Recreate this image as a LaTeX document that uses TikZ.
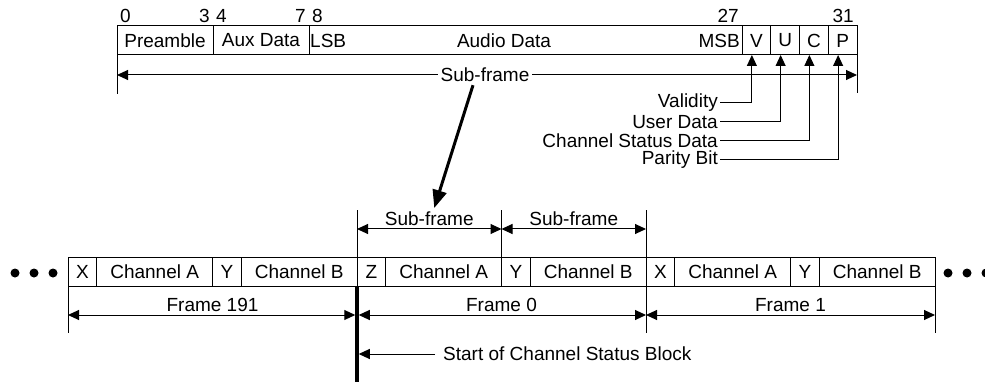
\documentclass[tikz,border=0pt]{standalone}
\usepackage{fontspec}
\setmainfont{Liberation Sans}
\usetikzlibrary{arrows.meta,positioning}

\tikzset{
  cell/.style={draw, line width=1pt, minimum height=29pt, inner sep=0pt, outer sep=0pt},
  sync/.style={cell, minimum width=28.9pt},
  chan/.style={cell, minimum width=115.6pt},
  flag/.style={cell, minimum width=28.75pt},
  tick/.style={line width=1pt},
  tip/.style={-{Triangle[length=11pt,width=10pt]}},
  dim/.style={line width=1pt, {Triangle[length=11pt,width=10pt]}-{Triangle[length=11pt,width=10pt]}},
  bitno/.style={inner sep=3pt},
}

\begin{document}
\begin{tikzpicture}[x=1pt, y=-1pt, font=\fontsize{19}{22}\selectfont, node distance=0pt]
  \useasboundingbox (0,0) rectangle (985,382);

  % Sub-frame bit layout
  \node[cell, minimum width=96pt, anchor=west] (pre) at (117,40.5) {Preamble};
  \node[cell, minimum width=96pt, right=of pre] (aux) {Aux Data};
  \node[cell, minimum width=433pt, right=of aux] (aud) {};
  \node[flag, right=of aud] (bv) {V};
  \node[flag, right=of bv] (bu) {U};
  \node[flag, right=of bu] (bc) {C};
  \node[flag, right=of bc] (bp) {P};
  \node[anchor=west, inner sep=1pt] (lsb) at (aud.west) {LSB};
  \node[anchor=east, inner sep=2pt] (msb) at (aud.east) {MSB};
  \node (audtxt) at ([xshift=-21.5pt]aud.center) {Audio Data};

  % Bit numbers
  \node[bitno, anchor=south west] (n0) at (pre.north west) {0};
  \node[bitno, anchor=south east] (n3) at (pre.north east) {3};
  \node[bitno, anchor=south west] (n4) at (aux.north west) {4};
  \node[bitno, anchor=south east] (n7) at (aux.north east) {7};
  \node[bitno, anchor=south west] (n8) at (aud.north west) {8};
  \node[bitno, anchor=south east] (n27) at (aud.north east) {27};
  \node[bitno, anchor=south east] (n31) at (bp.north east) {31};

  % Sub-frame width
  \draw[tick] (pre.south west) -- ++(0,39);
  \draw[tick] (bp.south east) -- ++(0,38);
  \coordinate (sfl) at ([yshift=-20pt]pre.south west);
  \coordinate (sfr) at ([yshift=-20pt]bp.south east);
  \draw[dim] (sfl) -- (sfr);
  \node[fill=white, inner sep=3pt] (sftop) at (485,75) {Sub-frame};

  % Flag bit labels
  \node[anchor=east, inner sep=2pt] (val) at (720,103) {Validity};
  \node[anchor=east, inner sep=2pt] (usr) at (720,122) {User Data};
  \node[anchor=east, inner sep=2pt] (chs) at (720,141) {Channel Status Data};
  \node[anchor=east, inner sep=2pt] (par) at (720,160) {Parity Bit};
  \draw[tick, tip] (val.east) -| ([xshift=-4.5pt]bv.south);
  \draw[tick, tip] (usr.east) -| ([xshift=-4.5pt]bu.south);
  \draw[tick, tip] (chs.east) -| ([xshift=-4.5pt]bc.south);
  \draw[tick, tip] (par.east) -| ([xshift=-4.5pt]bp.south);

  % Frame sequence
  \node[sync, anchor=west] (f191x) at (68,271.5) {X};
  \node[chan, right=of f191x] (f191a) {Channel A};
  \node[sync, right=of f191a] (f191y) {Y};
  \node[chan, right=of f191y] (f191b) {Channel B};
  \node[sync, right=of f191b] (f0z) {Z};
  \node[chan, right=of f0z] (f0a) {Channel A};
  \node[sync, right=of f0a] (f0y) {Y};
  \node[chan, right=of f0y] (f0b) {Channel B};
  \node[sync, right=of f0b] (f1x) {X};
  \node[chan, right=of f1x] (f1a) {Channel A};
  \node[sync, right=of f1a] (f1y) {Y};
  \node[chan, right=of f1y] (f1b) {Channel B};

  % Dots
  \foreach \x in {15,34,53,948,967,986}
    \fill (\x,273) circle (4.5pt);

  % Sub-frame widths
  \draw[tick] (f0z.north west) -- ++(0,-47);
  \draw[tick] (f0y.north west) -- ++(0,-47);
  \draw[tick] (f1x.north west) -- ++(0,-47);
  \draw[dim] ([yshift=28pt]f0z.north west) -- ([yshift=28pt]f0y.north west)
    node[midway, above, inner sep=3pt] (sfa) {Sub-frame};
  \draw[dim] ([yshift=28pt]f0y.north west) -- ([yshift=28pt]f1x.north west)
    node[midway, above, inner sep=3pt] (sfb) {Sub-frame};

  % Zoom arrow
  \draw[line width=3pt, -{Triangle[length=18pt,width=14pt]}]
    ([xshift=-12pt]sftop.south) -- ([xshift=5pt]sfa.north);

  % Frame widths
  \draw[tick] (f191x.south west) -- ++(0,47);
  \draw[tick] (f1x.south west) -- ++(0,47);
  \draw[tick] (f1b.south east) -- ++(0,47);
  \draw[dim, shorten >=1.75pt] ([yshift=-29pt]f191x.south west) -- ([yshift=-29pt]f191b.south east)
    node[midway, above, inner sep=3pt] (fr191) {Frame 191};
  \draw[dim, shorten <=1.75pt] ([yshift=-29pt]f0z.south west) -- ([yshift=-29pt]f0b.south east)
    node[midway, above, inner sep=3pt] (fr0) {Frame 0};
  \draw[dim] ([yshift=-29pt]f1x.south west) -- ([yshift=-29pt]f1b.south east)
    node[midway, above, inner sep=3pt] (fr1) {Frame 1};

  % Block start
  \draw[line width=3.5pt] (f0z.south west) -- ++(0,96);
  \node[anchor=west, inner xsep=8pt, inner ysep=2pt] (csb) at (435,354) {Start of Channel Status Block};
  \draw[tick, tip, shorten >=1.75pt] (csb.west) -- (csb.west -| f0z.south west);
\end{tikzpicture}
\end{document}
